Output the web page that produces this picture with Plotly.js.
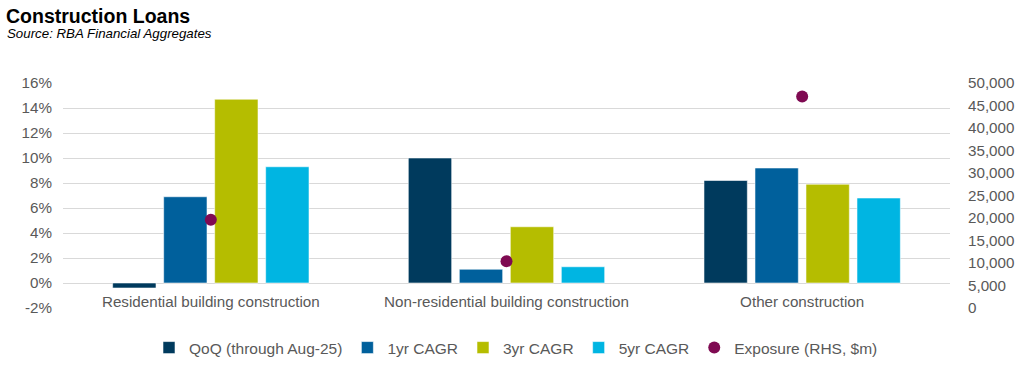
<!DOCTYPE html>
<html>
<head>
<meta charset="utf-8">
<script src="https://cdn.plot.ly/plotly-3.0.1.min.js"></script>
<style>html,body{margin:0;padding:0;background:#fff;}#chart{width:1024px;height:367px;}</style>
</head>
<body>
<div id="chart"></div>
<script>
const categories = ["Residential building construction", "Non-residential building construction", "Other construction"];
const qoq = [-0.4, 10.0, 8.2];
const cagr1 = [6.9, 1.1, 9.2];
const cagr3 = [14.7, 4.5, 7.9];
const cagr5 = [9.3, 1.3, 6.8];
const exposure = [19600, 10400, 47000];
const leftTicks = [-2, 0, 2, 4, 6, 8, 10, 12, 14, 16];
const rightTicks = [0, 5000, 10000, 15000, 20000, 25000, 30000, 35000, 40000, 45000, 50000];

const FONT = "Liberation Sans, Arial, sans-serif";
const GREY = "#595959";
const barLine = {color: "rgba(255,255,255,0.55)", width: 1};

const traces = [
  {type: "bar", name: "QoQ (through Aug-25)", x: categories, y: qoq, marker: {color: "#003a5d", line: barLine}},
  {type: "bar", name: "1yr CAGR", x: categories, y: cagr1, marker: {color: "#00609c", line: barLine}},
  {type: "bar", name: "3yr CAGR", x: categories, y: cagr3, marker: {color: "#b5bd00", line: barLine}},
  {type: "bar", name: "5yr CAGR", x: categories, y: cagr5, marker: {color: "#00b5e2", line: barLine}},
  {type: "scatter", mode: "markers", name: "Exposure (RHS, $m)", x: categories, y: exposure, yaxis: "y2",
   marker: {color: "#7f0a52", size: 12}}
];

const layout = {
  width: 1024, height: 367,
  margin: {l: 63, r: 74, t: 83, b: 59},
  paper_bgcolor: "#fff", plot_bgcolor: "#fff",
  font: {family: FONT, size: 15, color: GREY},
  title: {text: "<b>Construction Loans</b>", font: {family: FONT, size: 19.5, color: "#000"},
          xref: "container", x: 6/1024, xanchor: "left", yref: "container", y: 1 - 9/367, yanchor: "top", automargin: false},
  annotations: [{text: "<i>Source: RBA Financial Aggregates</i>", xref: "paper", yref: "paper",
    x: -58/887, y: 1 + 59/225, xanchor: "left", yanchor: "top", showarrow: false,
    font: {family: FONT, size: 13.3, color: "#000"}}],
  barmode: "group", bargap: 0.31, bargroupgap: 0.15,
  showlegend: true,
  legend: {orientation: "h", xref: "container", x: 516/1024, xanchor: "center", yref: "container", y: 1 - 348/367, yanchor: "middle",
           font: {family: FONT, size: 15.5, color: GREY}, traceorder: "normal"},
  xaxis: {type: "category", anchor: "free", position: 2/18, showline: false, showgrid: false, automargin: false,
          ticks: "", tickfont: {family: FONT, size: 15.2, color: GREY}, ticklabelstandoff: 8, fixedrange: true},
  yaxis: {range: [-2, 16], tickvals: leftTicks, ticktext: leftTicks.map(v => v + "%"), automargin: false,
          showgrid: true, gridcolor: "#d9d9d9", gridwidth: 1, zeroline: true, zerolinecolor: "#d9d9d9", zerolinewidth: 1,
          showline: false, ticks: "", ticklabelstandoff: 10, tickfont: {family: FONT, size: 15.2, color: GREY}},
  yaxis2: {overlaying: "y", side: "right", range: [0, 50000], tickvals: rightTicks, tickformat: ",", automargin: false,
           showgrid: false, zeroline: false, showline: false, ticks: "", ticklabelstandoff: 17,
           tickfont: {family: FONT, size: 15.2, color: GREY}}
};

Plotly.newPlot("chart", traces, layout, {staticPlot: true, displayModeBar: false});
</script>
</body>
</html>
